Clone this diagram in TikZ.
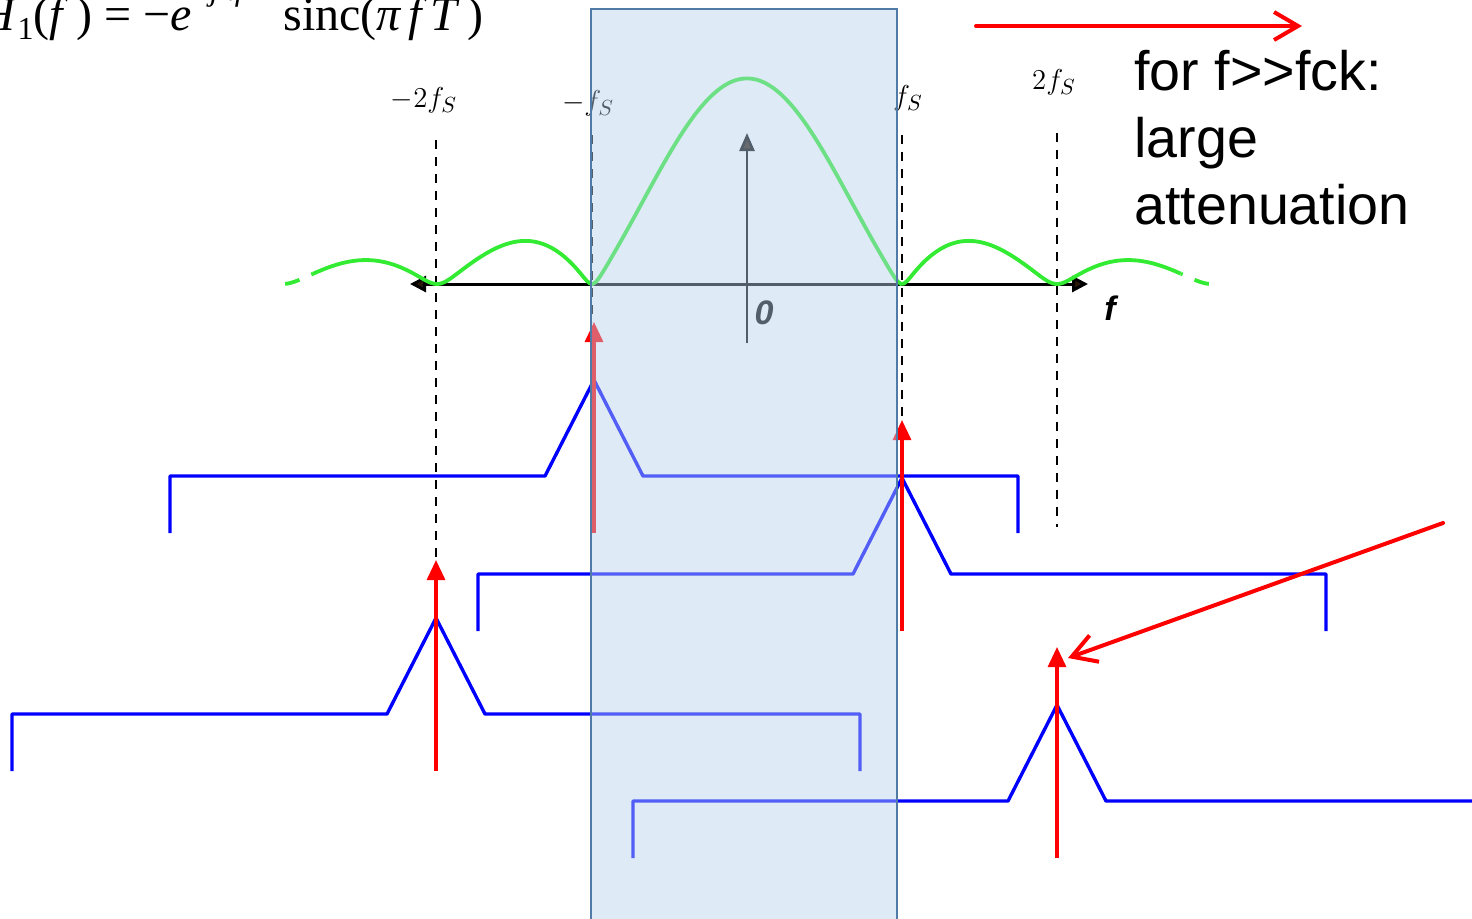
\documentclass[tikz,border=0pt]{standalone}
\usepackage{fontspec}
\setsansfont{Liberation Sans}
\newfontfamily\timesfont{Liberation Serif}
\usetikzlibrary{arrows.meta}
\definecolor{SincGreen}{RGB}{50,235,50}
\definecolor{BandFill}{RGB}{182,209,235}
\definecolor{BandEdge}{RGB}{79,123,166}
\definecolor{AxisTip}{RGB}{45,25,10}

\tikzset{declare function={
    sincf(\t)=sin(180*\t)/(pi*\t);
    hold(\t)=sincf(\t)*sincf(\t)/sqrt(sincf(\t)*sincf(\t)+0.0036);
}}

\begin{document}
\begin{tikzpicture}[
    x=0.5pt, y=-0.5pt,
    guide/.style={dash pattern=on 4.5pt off 4pt, line width=0.8pt},
    spec/.style={blue, line width=1.7pt, line join=round},
    impulse/.style={red, line width=1.6pt, -{Triangle[length=10pt,width=9pt]}},
    callout/.style={red, line width=2pt, line cap=round,
        -{Straight Barb[length=12pt,width=14pt,line width=2pt]}},
    axis/.style={line width=1.5pt,
        {Triangle[length=8pt,width=8pt,fill=AxisTip]}-{Triangle[length=8pt,width=8pt,fill=AxisTip]}},
    fslabel/.style={inner sep=0pt, font=\fontsize{15}{17}\selectfont},
    sinc/.style={SincGreen, line width=1.9pt},
]
\useasboundingbox (0,0) rectangle (1472,918);

% transfer function, cut at the top edge
\node[anchor=base east, inner sep=0pt, font=\timesfont\fontsize{24}{28}\selectfont] (hform) at (484,30)
    {\textit{H}\raisebox{-0.2em}{\fontsize{16}{16}\selectfont 1}(\textit{f}\,) = −\textit{e}\raisebox{0.62em}{\fontsize{16}{16}\selectfont −\textit{jπfT}}\, sinc(\textit{π\,f\,T}\,)};

% multiples of fs
\node[fslabel] (lm2) at (424,100) {$-2f_S$};
\node[fslabel] (lm1) at (588,103) {$-f_S$};
\node[fslabel] (lp1) at (908,98) {$f_S$};
\node[fslabel] (lp2) at (1054,82) {$2f_S$};

\foreach \n/\gx/\gt/\gb in {m2/436/140/558, m1/592/135/322, p1/902/135/420, p2/1057/133/527}{
    \coordinate (g\n a) at (\gx,\gt);
    \coordinate (g\n b) at (\gx,\gb);
    \draw[guide] (g\n a) -- (g\n b);
}

% axes
\coordinate (fl) at (410,284);
\coordinate (fr) at (1088,284);
\draw[axis] (fl) -- (fr);
\coordinate (vb) at (747,343);
\coordinate (vt) at (747,133);
\draw[line width=1.3pt, -{Triangle[length=9pt,width=7.5pt,fill=AxisTip]}] (vb) -- (vt);
\node[font=\sffamily\bfseries\itshape\fontsize{17}{20}\selectfont] (zero) at (764,313) {0};
\node[font=\sffamily\bfseries\itshape\fontsize{17}{20}\selectfont] (flab) at (1110,308) {f};

% |sinc| of the hold
\draw[sinc] plot[domain=-2.8:2.8, samples=280] ({747+155*\x},{284-206*hold(\x)});
\draw[sinc, dash pattern=on 7.5pt off 6.5pt] plot[samples at={-2.98,-2.96,...,-2.8}] ({747+155*\x},{284-206*hold(\x)});
\draw[sinc, dash pattern=on 7.5pt off 6.5pt] plot[samples at={2.98,2.96,...,2.8}] ({747+155*\x},{284-206*hold(\x)});

% shifted spectra and their impulses
\foreach \i/\cx/\by in {1/594/476, 2/902/574, 3/436/714, 4/1057/801}{
    \draw[spec] (\cx-424,\by+57) -- (\cx-424,\by) -- (\cx-49,\by) -- (\cx,\by-96)
        -- (\cx+49,\by) -- (\cx+424,\by) -- (\cx+424,\by+57);
    \coordinate (imp\i b) at (\cx,\by+57);
    \coordinate (imp\i t) at (\cx,\by-154);
    \draw[impulse] (imp\i b) -- (imp\i t);
}

% baseband window
\fill[BandFill, fill opacity=0.45] (591,9) rectangle (897,930);
\draw[BandEdge, line width=1pt] (591,930) -- (591,9) -- (897,9) -- (897,930);

% note
\node[anchor=north west, align=left, inner sep=0pt,
    font=\sffamily\fontsize{27.8}{33.5}\selectfont] (note) at (1134,50)
    {for f>{}>fck:\\large\\attenuation};
\coordinate (ca) at (976,26);
\coordinate (cb) at (1302,26);
\draw[callout] (ca) -- (cb);
\coordinate (da) at (1443,523);
\coordinate (db) at (1068,658);
\draw[callout] (da) -- (db);

\end{tikzpicture}
\end{document}
